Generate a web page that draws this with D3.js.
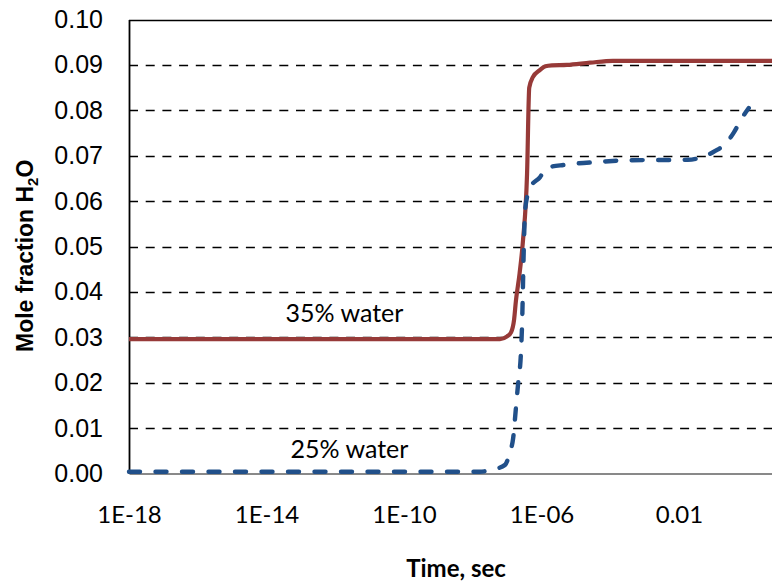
<!DOCTYPE html>
<html>
<head>
<meta charset="utf-8">
<script src="https://cdn.jsdelivr.net/npm/d3@7"></script>
<style>
  body { margin: 0; background: #fff; }
  svg { display: block; }
</style>
</head>
<body>
<div id="chart"></div>
<script>
var width = 772, height = 584;

// tick positions and labels on the log time axis
var xTicks = [1e-18, 1e-14, 1e-10, 1e-6, 1e-2];
var xTickLabels = ['1E-18', '1E-14', '1E-10', '1E-06', '0.01'];
var yTicks = [0, 0.01, 0.02, 0.03, 0.04, 0.05, 0.06, 0.07, 0.08, 0.09, 0.10];

// 35% water run
var timeRed = [1e-18, 6.2e-8, 1.0e-7, 1.3e-7, 1.6e-7, 1.8e-7, 2.3e-7, 2.9e-7, 3.8e-7, 4.4e-7,
  5.6e-7, 9.1e-7, 1.3e-6, 2.0e-6, 5.5e-6, 2.6e-5, 1.2e-4, 1e2];
var fracRed = [0.0296, 0.0296, 0.0302, 0.0311, 0.034, 0.038, 0.044, 0.0514, 0.066, 0.085,
  0.0873, 0.0889, 0.0897, 0.0899, 0.0900, 0.0905, 0.0909, 0.0909];

// 25% water run
var timeBlue = [1e-18, 1.6e-8, 3.5e-8, 8.7e-8, 1.2e-7, 1.5e-7, 1.8e-7, 2.1e-7, 2.5e-7, 2.7e-7,
  3.1e-7, 3.3e-7, 3.8e-7, 4.7e-7, 9.1e-7, 1.4e-6, 4.8e-6, 4.1e-5, 3.7e-4, 0.018, 0.047,
  0.11, 0.25, 0.40, 0.68, 1.07];
var fracBlue = [0.0004, 0.0004, 0.0008, 0.0019, 0.0047, 0.0078, 0.0144, 0.020, 0.026, 0.032,
  0.0514, 0.0574, 0.0609, 0.063, 0.0653, 0.0673, 0.068, 0.0686, 0.069, 0.0691, 0.0697,
  0.071, 0.073, 0.0752, 0.0783, 0.0805];

var svg = d3.select('#chart').append('svg')
  .attr('width', width)
  .attr('height', height);

var x = d3.scaleLog()
  .domain([1e-18, 1e2])
  .range([129, 816.5]);

var y = d3.scaleLinear()
  .domain([0, 0.1])
  .range([473.5, 19.5]);

// horizontal gridlines
svg.append('g')
  .selectAll('line')
  .data(yTicks.filter(function(d) { return d > 0; }))
  .enter().append('line')
  .attr('x1', x(1e-18))
  .attr('x2', width)
  .attr('y1', function(d) { return Math.round(y(d)) + 0.5; })
  .attr('y2', function(d) { return Math.round(y(d)) + 0.5; })
  .style('stroke', '#000')
  .style('stroke-width', 1.6)
  .style('stroke-dasharray', function(d) { return d >= 0.1 ? null : '9,7.7'; });

// y axis
var yAxis = d3.axisLeft(y)
  .tickValues(yTicks)
  .tickFormat(d3.format('.2f'))
  .tickSize(0)
  .tickPadding(26);

svg.append('g')
  .attr('transform', 'translate(' + x(1e-18) + ',0)')
  .call(yAxis)
  .call(function(g) {
    g.select('.domain').style('stroke', '#000').style('stroke-width', 1.8);
    g.selectAll('text')
      .style('font-family', '"Liberation Sans", Arial, sans-serif')
      .style('font-size', '25px')
      .style('fill', '#000');
  });

// x axis
var xAxis = d3.axisBottom(x)
  .tickValues(xTicks)
  .tickFormat(function(d, i) { return xTickLabels[i]; })
  .tickSize(0)
  .tickPadding(32);

svg.append('g')
  .attr('transform', 'translate(0,' + y(0) + ')')
  .call(xAxis)
  .call(function(g) {
    g.select('.domain').style('stroke', '#898989').style('stroke-width', 1.8);
    g.selectAll('text')
      .style('font-family', 'Lato, "Open Sans", sans-serif')
      .style('font-size', '24px')
      .style('fill', '#000');
  });

var line = d3.line()
  .x(function(d) { return x(d[0]); })
  .y(function(d) { return y(d[1]); })
  .curve(d3.curveMonotoneX);

svg.append('path')
  .datum(d3.zip(timeRed, fracRed))
  .attr('d', line)
  .style('fill', 'none')
  .style('stroke', '#973a38')
  .style('stroke-width', 4.2)
  .style('stroke-linejoin', 'round');

svg.append('path')
  .datum(d3.zip(timeBlue, fracBlue))
  .attr('d', line)
  .style('fill', 'none')
  .style('stroke', '#21508a')
  .style('stroke-width', 4.4)
  .style('stroke-linecap', 'round')
  .style('stroke-dasharray', '11,15.5');

// series labels
svg.append('text')
  .attr('x', 344.5)
  .attr('y', 322)
  .attr('text-anchor', 'middle')
  .style('font-family', 'Lato, sans-serif')
  .style('font-size', '25px')
  .text('35% water');

svg.append('text')
  .attr('x', 349.5)
  .attr('y', 458)
  .attr('text-anchor', 'middle')
  .style('font-family', 'Lato, sans-serif')
  .style('font-size', '25px')
  .text('25% water');

// axis titles
svg.append('text')
  .attr('x', 456)
  .attr('y', 577)
  .attr('text-anchor', 'middle')
  .style('font-family', 'Lato, sans-serif')
  .style('font-weight', 'bold')
  .style('font-size', '24px')
  .text('Time, sec');

var ylab = svg.append('text')
  .attr('transform', 'translate(33,352) rotate(-90)')
  .attr('text-anchor', 'start')
  .style('font-family', '"Liberation Sans", Arial, sans-serif')
  .style('font-weight', 'bold')
  .style('font-size', '23px');
ylab.append('tspan').text('Mole fraction H');
ylab.append('tspan').attr('dy', 5).style('font-size', '15px').text('2');
ylab.append('tspan').attr('dy', -5).text('O');
</script>
</body>
</html>
